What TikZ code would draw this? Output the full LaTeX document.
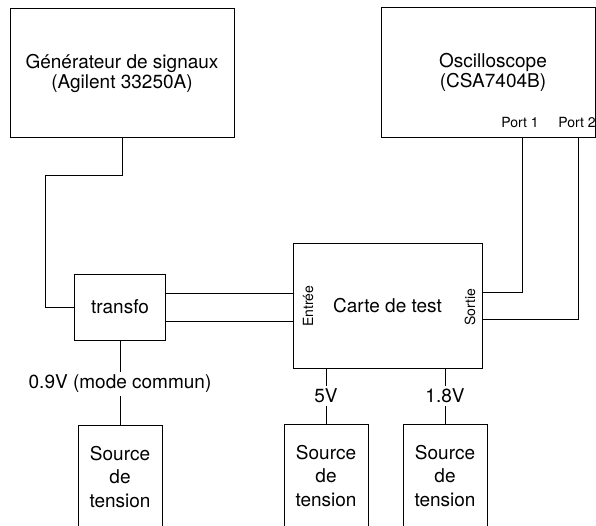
\documentclass[tikz,border=0pt]{standalone}
\usepackage{fontspec}
\setmainfont{TeX Gyre Heros}
\usetikzlibrary{calc}

\newcommand{\mainsize}{\fontsize{19}{20}\selectfont}
\newcommand{\portsize}{\fontsize{14}{16}\selectfont}

\tikzset{
	box/.style={draw, line width=1pt, align=center, font=\mainsize, inner sep=0pt},
	wire/.style={line width=0.8pt},
	lbl/.style={font=\mainsize, inner sep=3pt},
	port/.style={font=\portsize, inner sep=0pt}
}

\begin{document}
\begin{tikzpicture}[x=1pt, y=-1pt]

		\clip (0,0) rectangle (596,526);

		% appareils de mesure
		\node[box, minimum width=224pt, minimum height=129pt] (gen) at (122,73.5) {G\'en\'erateur de signaux\\(Agilent 33250A)};
		\node[box, minimum width=214pt, minimum height=130pt] (osc) at (488,73) {};
		\node[font=\mainsize, align=center] (osctxt) at (493,72) {Oscilloscope\\(CSA7404B)};
		\node[port] (port1) at (520,123) {Port 1};
		\node[port] (port2) at (577,123) {Port 2};
		\coordinate (p1) at (522,138);
		\coordinate (p2) at (578,138);

		% montage
		\node[box, minimum width=91pt, minimum height=66pt] (transfo) at (120,307) {transfo};
		\node[box, minimum width=189pt, minimum height=124pt] (carte) at (387.5,306) {Carte de test};
		\node[port, rotate=90] (entree) at (308,306) {Entr\'ee};
		\node[port, rotate=90] (sortie) at (470,307) {Sortie};

		% alimentations
		\node[box, minimum width=84pt, minimum height=104pt, align=center, font=\fontsize{19}{23.5}\selectfont] (srcA) at (120,477) {Source\\de\\tension};
		\node[box, minimum width=84pt, minimum height=104pt, align=center, font=\fontsize{19}{23.5}\selectfont] (srcB) at (326,476) {Source\\de\\tension};
		\node[box, minimum width=84pt, minimum height=104pt, align=center, font=\fontsize{19}{23.5}\selectfont] (srcC) at (445,476) {Source\\de\\tension};

		\node[lbl] (cm) at (120,384) {0.9V (mode commun)};
		\node[lbl] (v5) at (326,396) {5V};
		\node[lbl] (v18) at (445,396) {1.8V};

		% liaisons
		\coordinate (g1) at (122,175);
		\coordinate (g2) at (45,175);
		\draw[wire] (gen.south -| g1) -- (g1) -- (g2) |- (transfo.west);

		\draw[wire] ([yshift=14pt]transfo.east) -- ([yshift=14pt]transfo.east -| carte.west);
		\draw[wire] ([yshift=-14pt]transfo.east) -- ([yshift=-14pt]transfo.east -| carte.west);

		\draw[wire] ([yshift=14pt]carte.east) -| (p1);
		\draw[wire] ([yshift=-13pt]carte.east) -| (p2);

		\draw[wire] (transfo.south) -- (cm.north);
		\draw[wire] (cm.south) -- (srcA.north);
		\draw[wire] (carte.south -| v5) -- (v5.north);
		\draw[wire] (v5.south) -- (srcB.north);
		\draw[wire] (carte.south -| v18) -- (v18.north);
		\draw[wire] (v18.south) -- (srcC.north);

	\end{tikzpicture}
\end{document}
